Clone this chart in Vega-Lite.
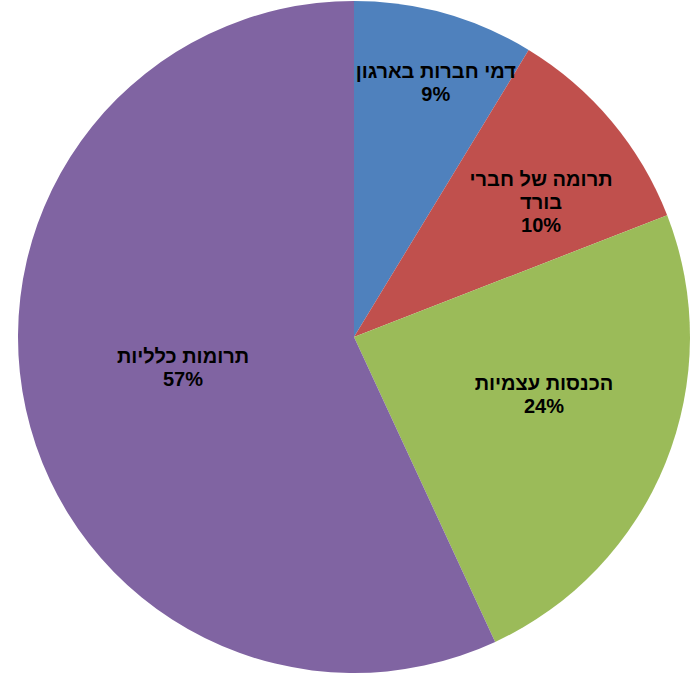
{
  "$schema": "https://vega.github.io/schema/vega-lite/v6.json",
  "width": 676,
  "height": 674,
  "padding": {"left": 16, "top": 0, "right": 0, "bottom": 0},
  "background": "white",
  "view": {"stroke": null},
  "data": {
    "values": [
      {"category": "דמי חברות בארגון", "value": 8.7, "rank": 1, "label": "דמי חברות בארגון\n9%"},
      {"category": "תרומה של חברי בורד", "value": 10.4, "rank": 2, "label": "תרומה של חברי\nבורד\n10%"},
      {"category": "הכנסות עצמיות", "value": 24.0, "rank": 3, "label": "הכנסות עצמיות\n24%"},
      {"category": "תרומות כלליות", "value": 56.9, "rank": 4, "label": "תרומות כלליות\n57%"}
    ]
  },
  "transform": [
    {"stack": "value", "groupby": [], "sort": [{"field": "rank", "order": "ascending"}], "as": ["v0", "v1"]},
    {"calculate": "(datum.v0 + datum.v1) / 2", "as": "vmid"}
  ],
  "layer": [
    {
      "mark": {"type": "arc", "radius": 336},
      "encoding": {
        "theta": {"field": "v0", "type": "quantitative", "scale": {"domain": [0, 100]}},
        "theta2": {"field": "v1"},
        "color": {
          "field": "category",
          "type": "nominal",
          "sort": null,
          "legend": null,
          "scale": {
            "domain": ["דמי חברות בארגון", "תרומה של חברי בורד", "הכנסות עצמיות", "תרומות כלליות"],
            "range": ["#4F81BD", "#C0504D", "#9BBB59", "#8064A2"]
          }
        }
      }
    },
    {
      "transform": [{"filter": "datum.rank == 1"}],
      "mark": {"type": "text", "radius": 277, "dx": 7, "dy": 2, "font": "Liberation Sans", "fontSize": 20, "fontWeight": "bold", "color": "#000000", "align": "center", "baseline": "middle", "lineBreak": "\n", "lineHeight": 23},
      "encoding": {"theta": {"field": "vmid", "type": "quantitative"}, "text": {"field": "label", "type": "nominal"}}
    },
    {
      "transform": [{"filter": "datum.rank == 2"}],
      "mark": {"type": "text", "radius": 244, "dx": 0, "dy": 0, "font": "Liberation Sans", "fontSize": 20, "fontWeight": "bold", "color": "#000000", "align": "center", "baseline": "middle", "lineBreak": "\n", "lineHeight": 23},
      "encoding": {"theta": {"field": "vmid", "type": "quantitative"}, "text": {"field": "label", "type": "nominal"}}
    },
    {
      "transform": [{"filter": "datum.rank == 3"}],
      "mark": {"type": "text", "radius": 194, "dx": 10, "dy": -26, "font": "Liberation Sans", "fontSize": 20, "fontWeight": "bold", "color": "#000000", "align": "center", "baseline": "middle", "lineBreak": "\n", "lineHeight": 23},
      "encoding": {"theta": {"field": "vmid", "type": "quantitative"}, "text": {"field": "label", "type": "nominal"}}
    },
    {
      "transform": [{"filter": "datum.rank == 4"}],
      "mark": {"type": "text", "radius": 171, "dx": -4, "dy": -17, "font": "Liberation Sans", "fontSize": 20, "fontWeight": "bold", "color": "#000000", "align": "center", "baseline": "middle", "lineBreak": "\n", "lineHeight": 23},
      "encoding": {"theta": {"field": "vmid", "type": "quantitative"}, "text": {"field": "label", "type": "nominal"}}
    }
  ]
}
